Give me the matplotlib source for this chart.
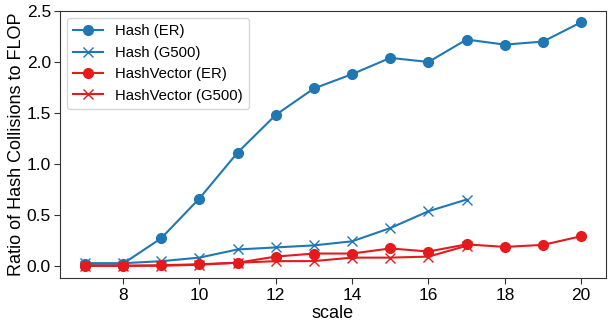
import matplotlib
matplotlib.use("Agg")
import matplotlib.pyplot as plt

plt.rcParams['font.family'] = ['Liberation Sans', 'DejaVu Sans']

scale = [7, 8, 9, 10, 11, 12, 13, 14, 15, 16, 17, 18, 19, 20]
scale_g500 = [7, 8, 9, 10, 11, 12, 13, 14, 15, 16, 17]

hash_er = [0.02, 0.02, 0.27, 0.66, 1.11, 1.48, 1.74, 1.88, 2.04, 2.00, 2.22, 2.17, 2.20, 2.39]
hash_g500 = [0.025, 0.025, 0.045, 0.08, 0.16, 0.18, 0.20, 0.24, 0.37, 0.535, 0.65]
hashvec_er = [0.0, 0.0, 0.005, 0.015, 0.03, 0.09, 0.12, 0.12, 0.17, 0.14, 0.21, 0.185, 0.205, 0.29]
hashvec_g500 = [0.0, 0.0, 0.0, 0.01, 0.03, 0.045, 0.046, 0.08, 0.08, 0.09, 0.196]

blue = '#1f77b4'
red = '#e41a1c'

fig = plt.figure(figsize=(6.08, 3.27), dpi=100)
ax = fig.add_axes([60 / 608, 1 - 278 / 327, 546 / 608, 267 / 327])

ax.plot(scale, hash_er, color=blue, marker='o', markersize=7, linewidth=1.5, label='Hash (ER)')
ax.plot(scale_g500, hash_g500, color=blue, marker='x', markersize=7, linewidth=1.5, label='Hash (G500)')
ax.plot(scale, hashvec_er, color=red, marker='o', markersize=7, linewidth=1.5, label='HashVector (ER)')
ax.plot(scale_g500, hashvec_g500, color=red, marker='x', markersize=7, linewidth=1.5, label='HashVector (G500)')

for s in ax.spines.values():
    s.set_color('#333333')
ax.set_xticks([8, 10, 12, 14, 16, 18, 20])
ax.set_yticks([0.0, 0.5, 1.0, 1.5, 2.0, 2.5])
ax.set_ylim(-0.12, 2.5)
ax.tick_params(labelsize=12.5, direction='out', length=4, color='#333333')
ax.tick_params(axis='y', pad=2.5)
ax.set_xlabel('scale', fontsize=13, labelpad=1)
ax.set_ylabel('Ratio of Hash Collisions to FLOP', fontsize=13, labelpad=1)
ax.legend(loc='upper left', fontsize=10.7)

fig.savefig('out.png')
